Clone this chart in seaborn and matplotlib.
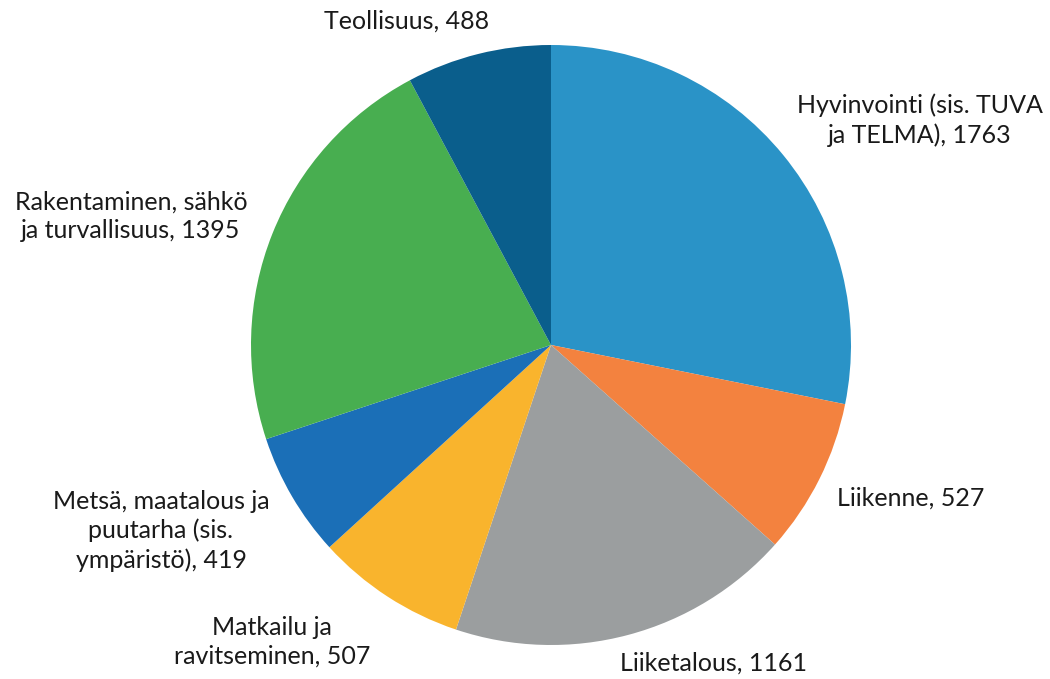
import matplotlib
matplotlib.use("Agg")
import matplotlib.pyplot as plt
import seaborn as sns

# sector labels and student counts, clockwise from 12 o'clock
categories = [
    "Hyvinvointi (sis. TUVA\nja TELMA)",
    "Liikenne",
    "Liiketalous",
    "Matkailu ja\nravitseminen",
    "Metsä, maatalous ja\npuutarha (sis.\nympäristö)",
    "Rakentaminen, sähkö\nja turvallisuus",
    "Teollisuus",
]
values = [1763, 527, 1161, 507, 419, 1395, 488]
colors = ["#2A93C7", "#F3823F", "#9B9E9F", "#F9B42D", "#1B6FB7", "#48AE50", "#0A5E8C"]

# where each label sits (pie radius = 1)
label_pos = [(1.23, 0.75), (1.20, -0.51), (0.54, -1.06), (-0.93, -0.99),
             (-1.30, -0.62), (-1.40, 0.43), (-0.48, 1.08)]

sns.set_theme(style="white")
plt.rcParams["font.family"] = ["Lato", "DejaVu Sans"]

fig = plt.figure(figsize=(10.5, 6.79), dpi=100)
ax = fig.add_axes([251 / 1050, 34 / 679, 600 / 1050, 600 / 679])

wedges, texts = ax.pie(values, colors=sns.color_palette(colors), startangle=90,
                       counterclock=False, radius=1,
                       labels=[f"{c}, {v}" for c, v in zip(categories, values)],
                       wedgeprops=dict(linewidth=0))
for t, (x, y) in zip(texts, label_pos):
    t.set_position((x, y))
    t.set_ha("center")
    t.set_va("center")
    t.set_multialignment("center")
    t.set_fontsize(18)
    t.set_color("#1a1a1a")
    t.set_linespacing(1.3)

ax.set_xlim(-1, 1)
ax.set_ylim(-1, 1)
ax.set_aspect("equal")
ax.axis("off")

fig.savefig("out.png", dpi=100)
